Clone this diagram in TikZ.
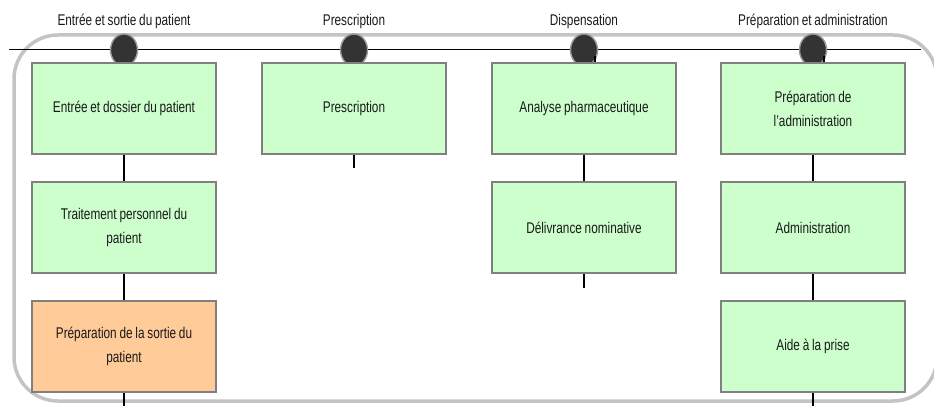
\documentclass[tikz,border=0pt]{standalone}
\usepackage{fontspec}
\setmainfont{Liberation Sans}[FakeStretch=0.76,WordSpace=0.85]
\usetikzlibrary{shapes.geometric}
\definecolor{boxgreen}{HTML}{CCFFCC}
\definecolor{boxorange}{HTML}{FFCC99}
\definecolor{boxborder}{HTML}{808080}
\definecolor{frame}{HTML}{C4C4C4}
\definecolor{dot}{HTML}{333333}
\definecolor{dotring}{HTML}{999999}
\definecolor{txt}{HTML}{1A1A1A}
\tikzset{
  stepbox/.style={draw=boxborder, line width=2pt, fill=boxgreen, minimum width=184pt, minimum height=91pt, inner sep=2pt, align=center, font=\fontsize{15.5}{24}\selectfont, text=txt},
  exitbox/.style={stepbox, fill=boxorange},
  phase/.style={ellipse, draw=dotring, line width=1.4pt, fill=dot, minimum width=27pt, minimum height=32pt, inner sep=0pt},
  phaselabel/.style={font=\fontsize{15.5}{18}\selectfont, text=txt},
  link/.style={line width=1.5pt, black},
}
\begin{document}
\begin{tikzpicture}[x=1pt,y=-1pt]
\useasboundingbox (0,0) rectangle (934,406);
% frame
\draw[frame, line width=3.5pt, rounded corners=44pt] (14,35) rectangle (937,401);
% timeline
\coordinate (tlA) at (9,50);
\coordinate (tlB) at (921,50);
\draw[black, line width=1pt] (tlA) -- (tlB);
% phase labels
\node[phaselabel] (l1) at (124,21) {Entrée et sortie du patient};
\node[phaselabel] (l2) at (354,21) {Prescription};
\node[phaselabel] (l3) at (584,21) {Dispensation};
\node[phaselabel] (l4) at (813,21) {Préparation et administration};
% phase dots
\node[phase] (p1) at (124,50) {};
\node[phase] (p2) at (354,50) {};
\node[phase] (p3) at (584,50) {};
\node[phase] (p4) at (813,50) {};
% small ticks
\coordinate (k3a) at (595,56);
\coordinate (k3b) at (595,63);
\coordinate (k4a) at (824,56);
\coordinate (k4b) at (824,63);
\draw[link] (k3a) -- (k3b);
\draw[link] (k4a) -- (k4b);
% boxes
\node[stepbox] (a1) at (124,108.5) {Entrée et dossier du patient};
\node[stepbox] (a2) at (124,227.5) {Traitement personnel du\\patient};
\node[exitbox] (a3) at (124,346.5) {Préparation de la sortie du\\patient};
\node[stepbox] (b1) at (354,108.5) {Prescription};
\node[stepbox] (c1) at (584,108.5) {Analyse pharmaceutique};
\node[stepbox] (c2) at (584,227.5) {Délivrance nominative};
\node[stepbox] (d1) at (813,108.5) {Préparation de\\l'administration};
\node[stepbox] (d2) at (813,227.5) {Administration};
\node[stepbox] (d3) at (813,346.5) {Aide à la prise};
% stub ends
\coordinate (a3e) at (124,406);
\coordinate (b1e) at (354,168);
\coordinate (c2e) at (584,288);
\coordinate (d3e) at (813,406);
% connectors
\draw[link] (a1.south) -- (a2.north);
\draw[link] (a2.south) -- (a3.north);
\draw[link] (a3.south) -- (a3e);
\draw[link] (b1.south) -- (b1e);
\draw[link] (c1.south) -- (c2.north);
\draw[link] (c2.south) -- (c2e);
\draw[link] (d1.south) -- (d2.north);
\draw[link] (d2.south) -- (d3.north);
\draw[link] (d3.south) -- (d3e);
\end{tikzpicture}
\end{document}
